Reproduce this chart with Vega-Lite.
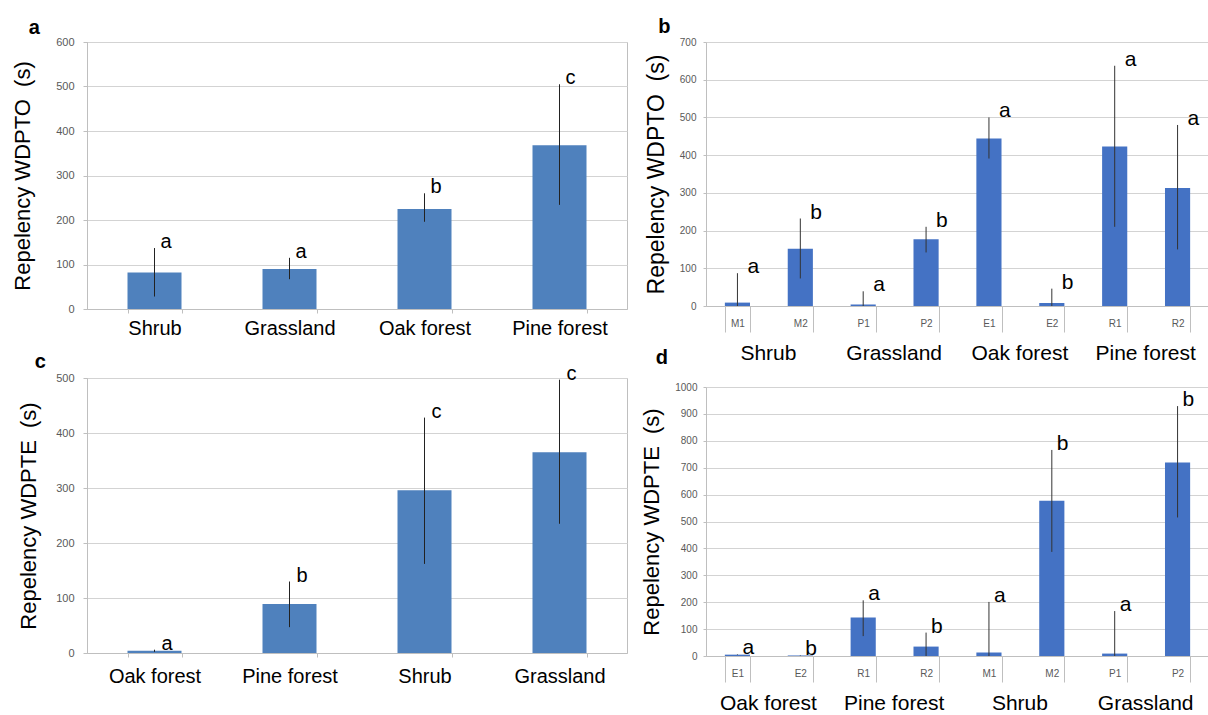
{
  "$schema": "https://vega.github.io/schema/vega-lite/v6.json",
  "background": "white",
  "padding": {"left": 11, "top": 17, "right": 0, "bottom": 0},
  "datasets": {
    "a": [
      {"habitat": "Shrub", "mean": 82, "lo": 28, "hi": 137, "letter": "a"},
      {"habitat": "Grassland", "mean": 90, "lo": 67, "hi": 115, "letter": "a"},
      {"habitat": "Oak forest", "mean": 225, "lo": 196, "hi": 260, "letter": "b"},
      {"habitat": "Pine forest", "mean": 368, "lo": 234, "hi": 505, "letter": "c"}
    ],
    "c": [
      {"habitat": "Oak forest", "mean": 4, "lo": 2, "hi": 6, "letter": "a"},
      {"habitat": "Pine forest", "mean": 89, "lo": 47, "hi": 130, "letter": "b"},
      {"habitat": "Shrub", "mean": 296, "lo": 162, "hi": 428, "letter": "c"},
      {"habitat": "Grassland", "mean": 365, "lo": 235, "hi": 497, "letter": "c"}
    ],
    "b": [
      {"site": "M1", "habitat": "Shrub", "mean": 9, "lo": 0, "hi": 87, "letter": "a"},
      {"site": "M2", "habitat": "Shrub", "mean": 152, "lo": 73, "hi": 232, "letter": "b"},
      {"site": "P1", "habitat": "Grassland", "mean": 4, "lo": 0, "hi": 39, "letter": "a"},
      {"site": "P2", "habitat": "Grassland", "mean": 177, "lo": 142, "hi": 210, "letter": "b"},
      {"site": "E1", "habitat": "Oak forest", "mean": 444, "lo": 391, "hi": 500, "letter": "a"},
      {"site": "E2", "habitat": "Oak forest", "mean": 8, "lo": 0, "hi": 46, "letter": "b"},
      {"site": "R1", "habitat": "Pine forest", "mean": 423, "lo": 210, "hi": 637, "letter": "a"},
      {"site": "R2", "habitat": "Pine forest", "mean": 313, "lo": 150, "hi": 480, "letter": "a"}
    ],
    "d": [
      {"site": "E1", "habitat": "Oak forest", "mean": 5, "lo": 4, "hi": 6, "letter": "a"},
      {"site": "E2", "habitat": "Oak forest", "mean": 2, "lo": 1, "hi": 3, "letter": "b"},
      {"site": "R1", "habitat": "Pine forest", "mean": 143, "lo": 74, "hi": 207, "letter": "a"},
      {"site": "R2", "habitat": "Pine forest", "mean": 35, "lo": 0, "hi": 87, "letter": "b"},
      {"site": "M1", "habitat": "Shrub", "mean": 13, "lo": 0, "hi": 201, "letter": "a"},
      {"site": "M2", "habitat": "Shrub", "mean": 577, "lo": 387, "hi": 766, "letter": "b"},
      {"site": "P1", "habitat": "Grassland", "mean": 9, "lo": 0, "hi": 167, "letter": "a"},
      {"site": "P2", "habitat": "Grassland", "mean": 719, "lo": 515, "hi": 929, "letter": "b"}
    ]
  },
  "spacing": 12,
  "hconcat": [
    {
      "bounds": "flush",
      "spacing": 69,
      "vconcat": [
        {
          "title": {"text": "a", "dx": 17, "offset": -2},
          "width": 540,
          "height": 267,
          "data": {"name": "a"},
          "layer": [
            {
              "mark": {"type": "bar", "color": "#4F81BD"},
              "encoding": {
                "x": {"field": "habitat", "type": "nominal", "sort": null, "title": null,
                  "scale": {"paddingInner": 0.6, "paddingOuter": 0.3},
                  "axis": {"labelAngle": 0, "labelFontSize": 20, "labelColor": "#000", "tickBand": "extent", "tickSize": 4, "labelPadding": 5}},
                "y": {"field": "mean", "type": "quantitative", "title": "Repelency WDPTO\u00a0 (s)",
                  "scale": {"domain": [0, 600]},
                  "axis": {"values": [0, 100, 200, 300, 400, 500, 600], "format": "d", "labelFontSize": 11, "tickSize": 4, "labelPadding": 9, "titleFontSize": 22, "titlePadding": 21}}
              }
            },
            {
              "mark": {"type": "rule", "color": "#222", "strokeWidth": 1},
              "encoding": {
                "x": {"field": "habitat", "type": "nominal", "sort": null, "title": null},
                "y": {"field": "lo", "type": "quantitative", "title": "Repelency WDPTO\u00a0 (s)"},
                "y2": {"field": "hi"}
              }
            },
            {
              "mark": {"type": "text", "align": "left", "baseline": "alphabetic", "dx": 6, "fontSize": 20, "color": "#000"},
              "encoding": {
                "x": {"field": "habitat", "type": "nominal", "sort": null, "title": null},
                "y": {"field": "hi", "type": "quantitative", "title": "Repelency WDPTO\u00a0 (s)"},
                "text": {"field": "letter"}
              }
            }
          ]
        },
        {
          "title": {"text": "c", "dx": 17, "offset": -8},
          "width": 540,
          "height": 275,
          "data": {"name": "c"},
          "layer": [
            {
              "mark": {"type": "bar", "color": "#4F81BD"},
              "encoding": {
                "x": {"field": "habitat", "type": "nominal", "sort": null, "title": null,
                  "scale": {"paddingInner": 0.6, "paddingOuter": 0.3},
                  "axis": {"labelAngle": 0, "labelFontSize": 20, "labelColor": "#000", "tickBand": "extent", "tickSize": 4, "labelPadding": 9}},
                "y": {"field": "mean", "type": "quantitative", "title": "Repelency WDPTE\u00a0 (s)",
                  "scale": {"domain": [0, 500]},
                  "axis": {"values": [0, 100, 200, 300, 400, 500], "format": "d", "labelFontSize": 11, "tickSize": 4, "labelPadding": 9, "titleFontSize": 22, "titlePadding": 15}}
              }
            },
            {
              "mark": {"type": "rule", "color": "#222", "strokeWidth": 1},
              "encoding": {
                "x": {"field": "habitat", "type": "nominal", "sort": null, "title": null},
                "y": {"field": "lo", "type": "quantitative", "title": "Repelency WDPTE\u00a0 (s)"},
                "y2": {"field": "hi"}
              }
            },
            {
              "mark": {"type": "text", "align": "left", "baseline": "alphabetic", "dx": 7, "fontSize": 20, "color": "#000"},
              "encoding": {
                "x": {"field": "habitat", "type": "nominal", "sort": null, "title": null},
                "y": {"field": "hi", "type": "quantitative", "title": "Repelency WDPTE\u00a0 (s)"},
                "text": {"field": "letter"}
              }
            }
          ]
        }
      ]
    },
    {
      "bounds": "flush",
      "spacing": 81,
      "vconcat": [
        {
          "title": {"text": "b", "dx": 13, "offset": 0},
          "width": 503,
          "height": 264,
          "view": {"stroke": null},
          "data": {"name": "b"},
          "resolve": {"axis": {"x": "independent"}},
          "layer": [
            {
              "mark": {"type": "bar", "color": "#4472C4"},
              "encoding": {
                "x": {"field": "site", "type": "nominal", "sort": null, "title": null,
                  "scale": {"paddingInner": 0.6, "paddingOuter": 0.3},
                  "axis": {"orient": "bottom", "labelAngle": 0, "labelFontSize": 10, "labelColor": "#595959", "tickBand": "extent", "tickSize": 26, "labelPadding": -14}},
                "y": {"field": "mean", "type": "quantitative", "title": "Repelency WDPTO\u00a0 (s)",
                  "scale": {"domain": [0, 700]},
                  "axis": {"values": [0, 100, 200, 300, 400, 500, 600, 700], "format": "d", "labelFontSize": 10, "tickSize": 3, "labelPadding": 7, "titleFontSize": 23, "titlePadding": 11}}
              }
            },
            {
              "mark": {"type": "rule", "color": "#333", "strokeWidth": 1},
              "encoding": {
                "x": {"field": "site", "type": "nominal", "sort": null, "title": null, "axis": null},
                "y": {"field": "lo", "type": "quantitative", "title": "Repelency WDPTO\u00a0 (s)",
                  "axis": {"values": [0, 100, 200, 300, 400, 500, 600, 700], "format": "d", "labelFontSize": 10, "tickSize": 3, "labelPadding": 7, "titleFontSize": 23, "titlePadding": 11}},
                "y2": {"field": "hi"}
              }
            },
            {
              "mark": {"type": "text", "align": "left", "baseline": "alphabetic", "dx": 10, "fontSize": 21, "color": "#000"},
              "encoding": {
                "x": {"field": "site", "type": "nominal", "sort": null, "title": null,
                  "axis": {"orient": "bottom", "values": ["M1", "P1", "E1", "R1"], "labelExpr": "datum.value == 'M1' ? 'Shrub' : datum.value == 'P1' ? 'Grassland' : datum.value == 'E1' ? 'Oak forest' : 'Pine forest'", "labelOffset": 31, "labelAngle": 0, "labelFontSize": 21, "labelColor": "#000", "ticks": false, "domain": false, "grid": false, "labelPadding": 36}},
                "y": {"field": "hi", "type": "quantitative", "title": "Repelency WDPTO\u00a0 (s)",
                  "axis": {"values": [0, 100, 200, 300, 400, 500, 600, 700], "format": "d", "labelFontSize": 10, "tickSize": 3, "labelPadding": 7, "titleFontSize": 23, "titlePadding": 11}},
                "text": {"field": "letter"}
              }
            }
          ]
        },
        {
          "title": {"text": "d", "dx": 15, "offset": 14},
          "width": 503,
          "height": 269,
          "view": {"stroke": null},
          "data": {"name": "d"},
          "resolve": {"axis": {"x": "independent"}},
          "layer": [
            {
              "mark": {"type": "bar", "color": "#4472C4"},
              "encoding": {
                "x": {"field": "site", "type": "nominal", "sort": null, "title": null,
                  "scale": {"paddingInner": 0.6, "paddingOuter": 0.3},
                  "axis": {"orient": "bottom", "labelAngle": 0, "labelFontSize": 10, "labelColor": "#595959", "tickBand": "extent", "tickSize": 26, "labelPadding": -14}},
                "y": {"field": "mean", "type": "quantitative", "title": "Repelency WDPTE\u00a0 (s)",
                  "scale": {"domain": [0, 1000]},
                  "axis": {"values": [0, 100, 200, 300, 400, 500, 600, 700, 800, 900, 1000], "format": "d", "labelFontSize": 10, "tickSize": 3, "labelPadding": 6, "titleFontSize": 22, "titlePadding": 11}}
              }
            },
            {
              "mark": {"type": "rule", "color": "#333", "strokeWidth": 1},
              "encoding": {
                "x": {"field": "site", "type": "nominal", "sort": null, "title": null, "axis": null},
                "y": {"field": "lo", "type": "quantitative", "title": "Repelency WDPTE\u00a0 (s)",
                  "axis": {"values": [0, 100, 200, 300, 400, 500, 600, 700, 800, 900, 1000], "format": "d", "labelFontSize": 10, "tickSize": 3, "labelPadding": 6, "titleFontSize": 22, "titlePadding": 11}},
                "y2": {"field": "hi"}
              }
            },
            {
              "mark": {"type": "text", "align": "left", "baseline": "alphabetic", "dx": 5, "fontSize": 21, "color": "#000"},
              "encoding": {
                "x": {"field": "site", "type": "nominal", "sort": null, "title": null,
                  "axis": {"orient": "bottom", "values": ["E1", "R1", "M1", "P1"], "labelExpr": "datum.value == 'M1' ? 'Shrub' : datum.value == 'P1' ? 'Grassland' : datum.value == 'E1' ? 'Oak forest' : 'Pine forest'", "labelOffset": 31, "labelAngle": 0, "labelFontSize": 21, "labelColor": "#000", "ticks": false, "domain": false, "grid": false, "labelPadding": 36}},
                "y": {"field": "hi", "type": "quantitative", "title": "Repelency WDPTE\u00a0 (s)",
                  "axis": {"values": [0, 100, 200, 300, 400, 500, 600, 700, 800, 900, 1000], "format": "d", "labelFontSize": 10, "tickSize": 3, "labelPadding": 6, "titleFontSize": 22, "titlePadding": 11}},
                "text": {"field": "letter"}
              }
            }
          ]
        }
      ]
    }
  ],
  "config": {
    "font": "Liberation Sans",
    "view": {"stroke": "#bfbfbf"},
    "axis": {"gridColor": "#d3d3d3", "domainColor": "#bfbfbf", "tickColor": "#bfbfbf", "labelColor": "#595959", "titleColor": "#000", "titleFontWeight": "normal"},
    "title": {"anchor": "start", "fontSize": 20, "fontWeight": "bold", "color": "#000"}
  }
}
